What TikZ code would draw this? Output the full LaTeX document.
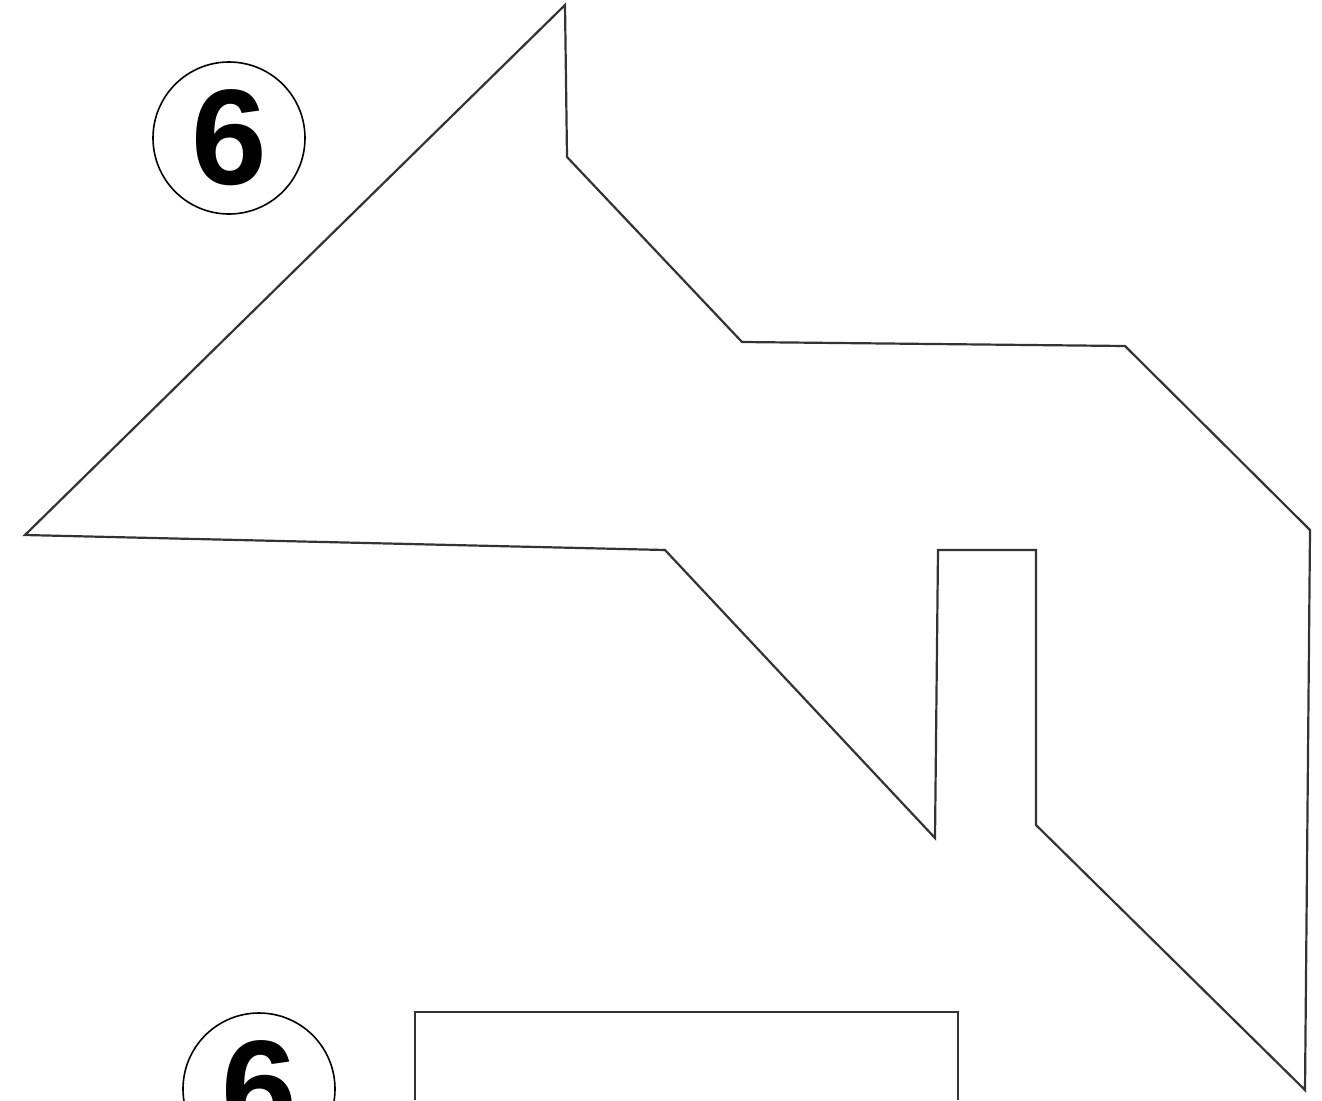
\documentclass[tikz,border=0pt]{standalone}
\usepackage{fontspec}
\setmainfont{Liberation Sans}
\begin{document}
\begin{tikzpicture}[x=1pt,y=-1pt,
  outline/.style={draw=black!80, line width=2.2pt, line join=miter},
  badge/.style={circle, draw=black, line width=1.6pt, minimum size=152pt, inner sep=0pt, font=\fontsize{136}{136}\bfseries\selectfont}]
\useasboundingbox (0,0) rectangle (1322,1100);
\fill[white] (0,0) rectangle (1322,1100);
\node[badge] (n1) at (229,138) {6};
\begin{scope}
\clip (0,0) rectangle (1322,1100);
\node[badge] (n2) at (259,1089) {6};
\draw[outline] (415,1100) -- (415,1012) -- (958,1012) -- (958,1100);
\end{scope}
\draw[outline] (565,5) -- (567,157) -- (742,342) -- (1125,346) -- (1310,530)
  -- (1305,1090) -- (1036,825) -- (1036,550) -- (938,550) -- (935,838)
  -- (665,550) -- (25,535) -- cycle;
\end{tikzpicture}
\end{document}
